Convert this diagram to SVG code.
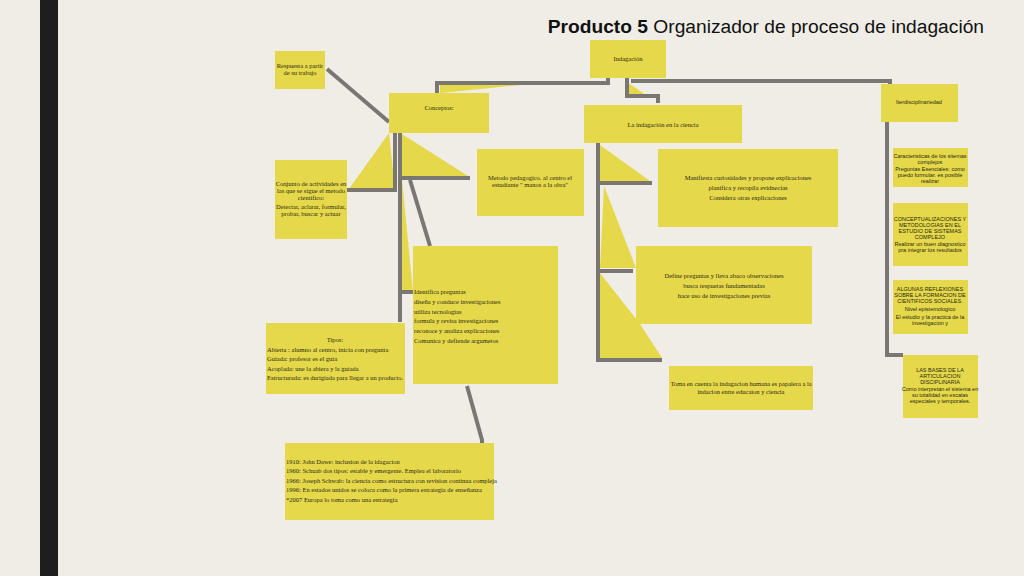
<svg xmlns="http://www.w3.org/2000/svg" width="1024" height="576" viewBox="0 0 1024 576">
<style>
.b{fill:#E6D84B}
.w{fill:#E6D84B}
.c{fill:none;stroke:#7A7773;stroke-width:4}
text{font-family:"Liberation Serif",serif;font-size:6.5px;fill:#2a2a10}
.s{font-family:"Liberation Sans",sans-serif;font-size:5.5px}
.m{text-anchor:middle}
</style>
<rect width="1024" height="576" fill="#EFEDE6"/>
<rect x="40" y="0" width="18" height="576" fill="#1E1E1E"/>
<text x="984" y="33" text-anchor="end" style="font-family:'Liberation Sans',sans-serif;font-size:19.2px;fill:#111"><tspan font-weight="bold">Producto 5</tspan> Organizador de proceso de indagación</text>
<g id="connectors">
<polygon class="w" points="440,85 520,85 440,93"/>
<polygon class="w" points="627,82 647,96 627,96"/>
<polygon class="w" points="389,133 349,189 395,189"/>
<polygon class="w" points="402,134 468,176 402,176"/>
<polygon class="w" points="402,180 413,292 402,292"/>
<polygon class="w" points="600,145 650,181 600,181"/>
<polygon class="w" points="604,186 636,268 600,268"/>
<polygon class="w" points="600,273 640,324 662,358 600,358"/>
<path class="c" d="M608,78 V83 H437 V93"/>
<path class="c" d="M627,78 V96 H658 V103"/>
<path class="c" d="M631,81 H890 V84"/>
<path class="c" d="M887,122 V355 H903"/>
<path class="c" d="M327,69 L389,122"/>
<path class="c" d="M395,133 V190 H347"/>
<path class="c" d="M400,133 V178 H470"/>
<path class="c" d="M400,178 V292 H413 M400,292 V322"/>
<path class="c" d="M410,180 L430,246"/>
<path class="c" d="M467,386 L482,440 V443"/>
<path class="c" d="M598,143 V360 H662 M598,183 H652 M598,271 H633"/>
</g>
<g id="indagacion"><rect class="b" x="590" y="40" width="76" height="38"/><text class="m" x="628" y="61">Indagación</text></g>
<g id="respuesta"><rect class="b" x="275" y="51" width="50" height="38"/><text class="m" x="300" y="68">Respuesta a partir</text><text class="m" x="300" y="75">de su trabajo</text></g>
<g id="conceptos"><rect class="b" x="389" y="93" width="100" height="40"/><text class="m" x="439" y="110">Conceptos:</text></g>
<g id="ciencia"><rect class="b" x="584" y="105" width="158" height="38"/><text class="m" x="663" y="127">La indagación en la ciencia</text></g>
<g id="inter"><rect class="b" x="881" y="84" width="77" height="38"/><text class="m s" x="919" y="104">Iterdisciplinariedad</text></g>
<g id="conjunto"><rect class="b" x="275" y="160" width="72" height="79"/><text class="m" x="311" y="186">Conjunto de actividades en</text><text class="m" x="311" y="193">las que se sigue el metodo</text><text class="m" x="311" y="200">cientifico:</text><text class="m" x="311" y="209">Detectar, aclarar, formular,</text><text class="m" x="311" y="216">probar, buscar y actuar</text></g>
<g id="metodo"><rect class="b" x="477" y="149" width="107" height="67"/><text class="m" x="530" y="180">Metodo pedagogico. al centro el</text><text class="m" x="530" y="187">estudiante " manos a la obra"</text></g>
<g id="manifiesta"><rect class="b" x="658" y="149" width="180" height="78"/><text class="m" x="748" y="180">Manifiesta curiosidades y propone explicaciones</text><text class="m" x="748" y="190">planifica y recopila evidnecias</text><text class="m" x="748" y="200">Considera otras explicaciones</text></g>
<g id="identifica"><rect class="b" x="413" y="246" width="145" height="138"/><text x="414" y="294">Identifica preguntas</text><text x="414" y="304">diseña y conduce investigaciones</text><text x="414" y="314">utiliza tecnologias</text><text x="414" y="323">formula y revisa investigaciones</text><text x="414" y="333">reconoce y analiza explicaciones</text><text x="414" y="343">Comunica y defiende argumetos</text></g>
<g id="tipos"><rect class="b" x="266" y="323" width="139" height="71"/><text class="m" x="335" y="342">Tipos:</text><text x="267" y="352">Abierta : alumno al centro, inicia con pregunta</text><text x="267" y="361">Guiada: profesor es el guia</text><text x="267" y="371">Acoplada: une la abiera y la guiada</text><text x="267" y="380">Estructurada: es durigiada para llegar a un producto.</text></g>
<g id="define"><rect class="b" x="636" y="246" width="176" height="78"/><text class="m" x="724" y="278">Define preguntas  y lleva abaco observaciones</text><text class="m" x="724" y="288">busca respuetas fundamentadas</text><text class="m" x="724" y="298">hace uso de investigaciones previas</text></g>
<g id="toma"><rect class="b" x="669" y="366" width="144" height="44"/><text class="m" x="741" y="386">Toma en cuenta la indagacion humana es papalera a la</text><text class="m" x="741" y="394">indacion entre educaion y ciencia</text></g>
<g id="caract"><rect class="b" x="893" y="148" width="75" height="39"/><text class="m s" x="930" y="158">Caracteristicas de los sitemas</text><text class="m s" x="930" y="164">complejos</text><text class="m s" x="930" y="171">Preguntas Esenciales: como</text><text class="m s" x="930" y="177">puedo formular. es posible</text><text class="m s" x="930" y="183">realizar</text></g>
<g id="conceptualiz"><rect class="b" x="893" y="203" width="75" height="63"/><text class="m s" x="930" y="221">CONCEPTUALIZACIONES Y</text><text class="m s" x="930" y="227">METODOLOGIAS EN EL</text><text class="m s" x="930" y="233">ESTUDIO DE SISTEMAS</text><text class="m s" x="930" y="239">COMPLEJO</text><text class="m s" x="930" y="246">Realizar un buen diagnostico</text><text class="m s" x="930" y="252">pra integrar los resultados</text></g>
<g id="algunas"><rect class="b" x="893" y="280" width="75" height="54"/><text class="m s" x="930" y="291">ALGUNAS REFLEXIONES</text><text class="m s" x="930" y="297">SOBRE LA FORMACION DE</text><text class="m s" x="930" y="303">CIENTIFICOS SOCIALES.</text><text class="m s" x="930" y="311">Nivel epistemologico</text><text class="m s" x="930" y="319">El estudio y la practica de la</text><text class="m s" x="930" y="325">investigacion y</text></g>
<g id="bases"><rect class="b" x="903" y="355" width="75" height="63"/><text class="m s" x="940" y="372">LAS BASES DE LA</text><text class="m s" x="940" y="378">ARTICULACION</text><text class="m s" x="940" y="384">DISCIPLINARIA</text><text class="m s" x="940" y="391">Como interpretan el sistema en</text><text class="m s" x="940" y="397">su totalidad en escalas</text><text class="m s" x="940" y="403">especiales y temporales.</text></g>
<g id="historia"><rect class="b" x="285" y="443" width="209" height="77"/><text x="286" y="464">1910: John Dawe: inclusion de la idagacion</text><text x="286" y="473">1960: Schuab dos tipos: estable y emergente. Emplea el laboratorio</text><text x="286" y="483">1966: Joseph Schwab:  la ciencia como estructura con revision continua compleja</text><text x="286" y="492">1996: En estados unidos se coloca como la primera estrategia de enseñanza</text><text x="286" y="502">*2007 Europa lo toma como una estrategia</text></g>
</svg>
